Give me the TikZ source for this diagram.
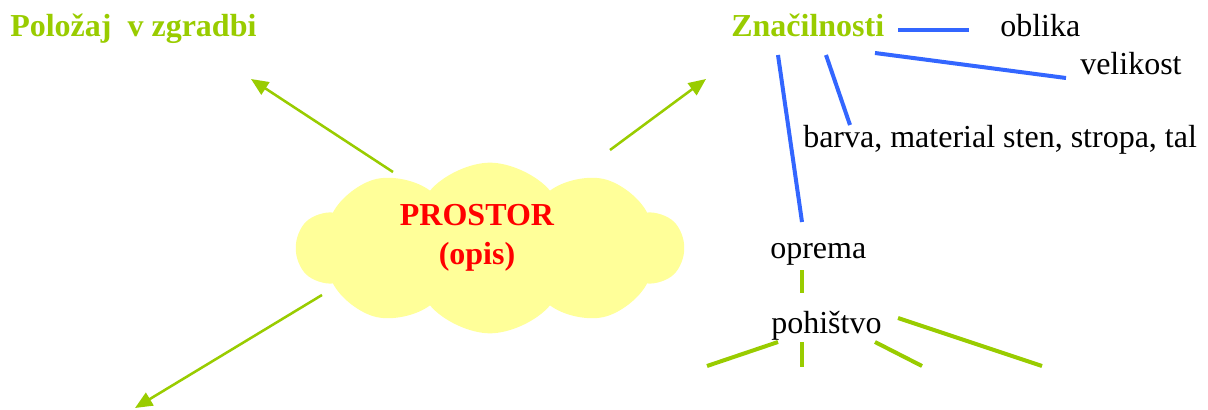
\documentclass[tikz,border=0pt]{standalone}
\usepackage{fontspec}
\setmainfont{Liberation Serif}
\usetikzlibrary{shapes.symbols,arrows.meta}
\definecolor{zelena}{RGB}{153,204,0}
\definecolor{modra}{RGB}{51,102,255}
\definecolor{rumena}{RGB}{255,255,153}
\definecolor{rdeca}{RGB}{255,0,0}
\tikzset{
  naslov/.style={anchor=base west, inner sep=0pt, text=zelena, font=\fontsize{24}{28}\selectfont\bfseries},
  pojem/.style={anchor=base west, inner sep=0pt, font=\fontsize{24}{28}\selectfont},
  puscica/.style={draw=zelena, line width=1.9pt, -{Triangle[length=13pt,width=11pt]}},
  modracrta/.style={draw=modra, line width=3pt},
  zelenacrta/.style={draw=zelena, line width=3pt}
}
\begin{document}
\begin{tikzpicture}[x=0.75pt,y=-0.75pt]
\useasboundingbox (0,0) rectangle (1208,410);

\node[cloud, cloud puffs=10, cloud puff arc=100, aspect=2.3, fill=rumena, draw=none, minimum width=290pt, minimum height=128pt] (oblak) at (490,248) {};
\node[align=center, text=rdeca, font=\fontsize{24}{29}\selectfont\bfseries] (prostor) at (477,238) {PROSTOR\\(opis)};

\node[naslov] (polozaj) at (10,37) {Položaj\ \ v zgradbi};
\node[naslov] (znacilnosti) at (731,37) {Značilnosti};
\node[pojem] (oblika) at (1000,37) {oblika};
\node[pojem] (velikost) at (1080,75) {velikost};
\node[pojem] (barva) at (803,147) {barva, material sten, stropa, tal};
\node[pojem] (oprema) at (770,258) {oprema};
\node[pojem] (pohistvo) at (771,333) {pohištvo};

\coordinate (a1) at (393,172);
\coordinate (b1) at (251,79);
\coordinate (a2) at (610,150);
\coordinate (b2) at (706,79);
\coordinate (a3) at (322,295);
\coordinate (b3) at (135,408);
\draw[puscica] (a1) -- (b1);
\draw[puscica] (a2) -- (b2);
\draw[puscica] (a3) -- (b3);

\coordinate (z1) at (898,30);
\coordinate (z2) at (969,30);
\coordinate (z3) at (875,53);
\coordinate (z4) at (1066,78);
\coordinate (z5) at (826,55);
\coordinate (z6) at (850,125);
\coordinate (z7) at (778,55);
\coordinate (z8) at (802,222);
\draw[modracrta] (z1) -- (z2);
\draw[modracrta] (z3) -- (z4);
\draw[modracrta] (z5) -- (z6);
\draw[modracrta] (z7) -- (z8);

\coordinate (o1) at (802,270);
\coordinate (o2) at (802,293);
\coordinate (p1) at (778,342);
\coordinate (p2) at (707,366);
\coordinate (p3) at (802,342);
\coordinate (p4) at (802,367);
\coordinate (p5) at (875,342);
\coordinate (p6) at (922,366);
\coordinate (p7) at (898,318);
\coordinate (p8) at (1042,366);
\draw[zelenacrta] (o1) -- (o2);
\draw[zelenacrta] (p1) -- (p2);
\draw[zelenacrta] (p3) -- (p4);
\draw[zelenacrta] (p5) -- (p6);
\draw[zelenacrta] (p7) -- (p8);
\end{tikzpicture}
\end{document}
